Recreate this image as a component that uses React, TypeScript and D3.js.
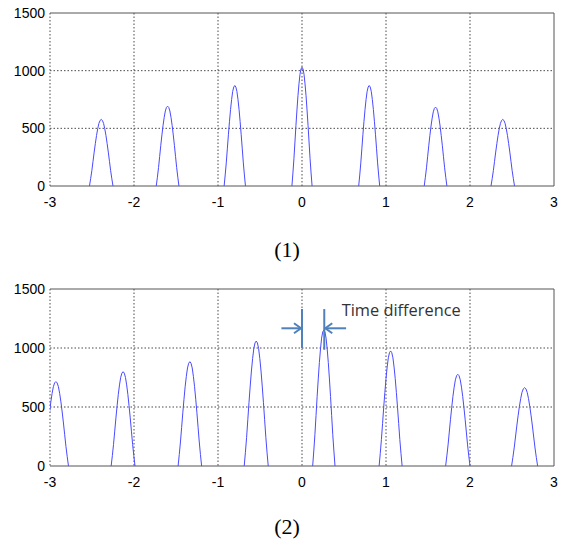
import React from 'react';
import * as d3 from 'd3';

// axis ticks shared by both panels
const X_TICKS = [-3, -2, -1, 0, 1, 2, 3];
const Y_TICKS = [0, 500, 1000, 1500];

// normalised pulse profile, base -> apex (mirrored for the falling side)
const PROFILE_HALF = [0, 0.11, 0.23, 0.37, 0.51, 0.64, 0.76, 0.86, 0.94, 0.985, 1];

// panel (1)
const TOP_CENTERS = [-2.39, -1.6, -0.8, 0, 0.8, 1.59, 2.39];
const TOP_HEIGHTS = [577, 692, 871, 1030, 871, 684, 577];
const TOP_HALF_WIDTHS = [0.14, 0.135, 0.127, 0.12, 0.125, 0.135, 0.14];

// panel (2)
const BOTTOM_CENTERS = [-2.93, -2.13, -1.335, -0.545, 0.26, 1.055, 1.855, 2.65];
const BOTTOM_HEIGHTS = [715, 799, 884, 1059, 1153, 975, 777, 664];
const BOTTOM_HALF_WIDTHS = [0.15, 0.142, 0.14, 0.143, 0.133, 0.137, 0.145, 0.155];

const WIDTH = 564;
const HEIGHT = 542;
const LEFT = 50;
const RIGHT = 554;

const profile = [...PROFILE_HALF, ...PROFILE_HALF.slice(0, -1).reverse()];

const pulse = (c, h, hw) =>
  profile.map((v, i) => [c + hw * ((i / (profile.length - 1)) * 2 - 1), v * h]);

const Panel = ({ id, top, bottom, centers, heights, halfWidths, children }) => {
  const x = d3.scaleLinear().domain([-3, 3]).range([LEFT, RIGHT]);
  const y = d3.scaleLinear().domain([0, 1500]).range([bottom, top]);
  const line = d3
    .line()
    .x((d) => x(d[0]))
    .y((d) => y(d[1]));

  return (
    <g>
      <defs>
        <clipPath id={`clip-${id}`}>
          <rect x={LEFT} y={top} width={RIGHT - LEFT} height={bottom - top} />
        </clipPath>
      </defs>
      {/* grid */}
      <g stroke="#4a4a4a" strokeWidth={1} strokeDasharray="1.5,2">
        {X_TICKS.slice(0, -1).map((t) => (
          <line key={`gx${t}`} x1={x(t)} x2={x(t)} y1={top} y2={bottom} />
        ))}
        {Y_TICKS.slice(1, -1).map((t) => (
          <line key={`gy${t}`} x1={LEFT} x2={RIGHT} y1={y(t)} y2={y(t)} />
        ))}
      </g>
      {/* frame: top, right, bottom */}
      <path
        d={`M${LEFT},${top}H${RIGHT}V${bottom}H${LEFT}`}
        fill="none"
        stroke="#555"
        strokeWidth={1}
      />
      {/* pulses */}
      <g clipPath={`url(#clip-${id})`} fill="none" stroke="#4a4aff" strokeWidth={1}>
        {centers.map((c, i) => (
          <path key={i} d={line(pulse(c, heights[i], halfWidths[i]))} />
        ))}
      </g>
      {/* tick labels */}
      <g fontFamily="Liberation Sans, Arial, sans-serif" fontSize={14} fill="#000">
        {Y_TICKS.map((t) => (
          <text key={`ly${t}`} x={LEFT - 5} y={y(t)} dy="0.36em" textAnchor="end">
            {t}
          </text>
        ))}
        {X_TICKS.map((t) => (
          <text key={`lx${t}`} x={x(t)} y={bottom + 21} textAnchor="middle">
            {t}
          </text>
        ))}
      </g>
      {children && children(x, y)}
    </g>
  );
};

const ARROW_COLOR = '#4f81bd';

const annotation = (x, y) => (
  <g>
    <g stroke={ARROW_COLOR} strokeWidth={2} fill="none">
      <line x1={x(0)} x2={x(0)} y1={y(1330)} y2={y(1000)} />
      <line x1={x(0.265)} x2={x(0.265)} y1={y(1330)} y2={y(985)} />
      <line x1={x(-0.245)} x2={x(0) - 1} y1={y(1167)} y2={y(1167)} />
      <path d={`M${x(0) - 8},${y(1167) - 5}L${x(0) - 1},${y(1167)}L${x(0) - 8},${y(1167) + 5}`} />
      <line x1={x(0.525)} x2={x(0.265) + 1} y1={y(1167)} y2={y(1167)} />
      <path
        d={`M${x(0.265) + 8},${y(1167) - 5}L${x(0.265) + 1},${y(1167)}L${x(0.265) + 8},${y(1167) + 5}`}
      />
    </g>
    <text
      x={x(0.473)}
      y={y(1271)}
      fontFamily="Open Sans, Noto Sans, sans-serif"
      fontSize={16}
      fill="#333"
      textLength={119}
      lengthAdjust="spacingAndGlyphs"
    >
      Time difference
    </text>
  </g>
);

export default function App() {
  return (
    <div style={{ position: 'absolute', left: 0, top: 0 }}>
      <svg width={WIDTH} height={HEIGHT} style={{ display: 'block', background: '#fff' }}>
        <Panel
          id="a"
          top={13}
          bottom={186}
          centers={TOP_CENTERS}
          heights={TOP_HEIGHTS}
          halfWidths={TOP_HALF_WIDTHS}
        />
        <Panel
          id="b"
          top={289}
          bottom={466}
          centers={BOTTOM_CENTERS}
          heights={BOTTOM_HEIGHTS}
          halfWidths={BOTTOM_HALF_WIDTHS}
        >
          {annotation}
        </Panel>
        <g fontFamily="Liberation Serif, Times New Roman, serif" fontSize={22} textAnchor="middle">
          <text x={287} y={257}>(1)</text>
          <text x={287} y={534}>(2)</text>
        </g>
      </svg>
    </div>
  );
}
